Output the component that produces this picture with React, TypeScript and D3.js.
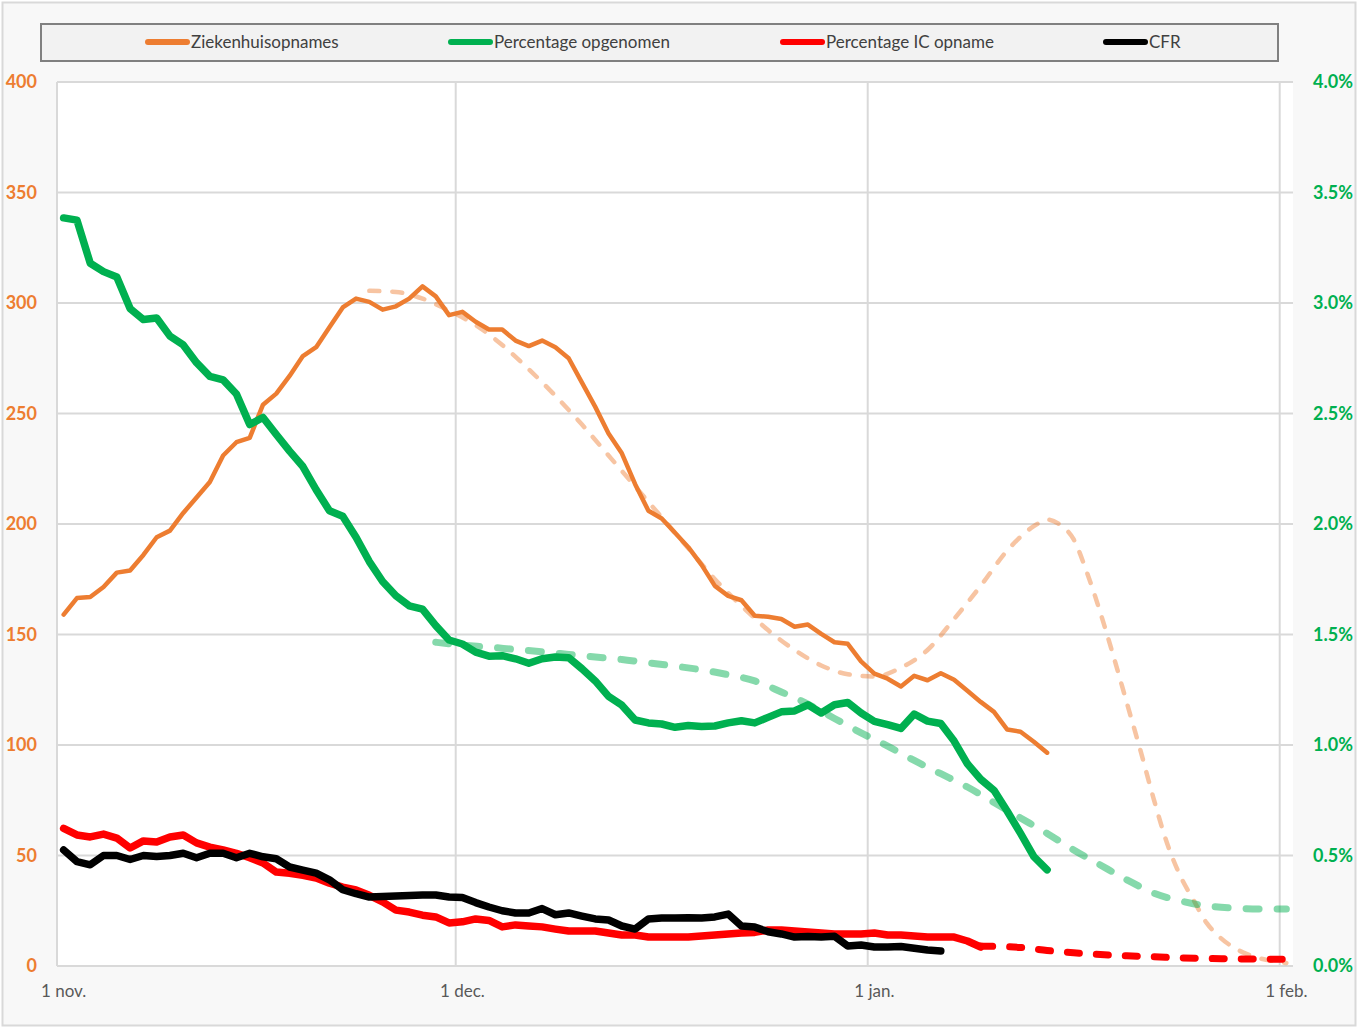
import React from "react";
import * as d3 from "d3";

// ---------- DATA ----------
const startDate = "2020-11-01";
const endDate = "2021-02-01";

const monthTicks = ["2020-11-01", "2020-12-01", "2021-01-01", "2021-02-01"];
const monthLabels = ["1 nov.", "1 dec.", "1 jan.", "1 feb."];

const leftTicks = [0, 50, 100, 150, 200, 250, 300, 350, 400];
const rightTicks = [0, 0.5, 1.0, 1.5, 2.0, 2.5, 3.0, 3.5, 4.0];

const seriesNames = ["Ziekenhuisopnames", "Percentage opgenomen", "Percentage IC opname", "CFR"];

// daily from 1 nov
const ziekenhuisopnames = [
  159, 166.5, 167, 171.5, 178, 179, 186, 194, 197, 205,
  212, 219, 231, 237, 239, 254, 259, 267, 276, 280,
  289, 298, 302, 300.5, 297, 298.5, 302, 307.5, 303, 294.5,
  296, 291.5, 288, 288, 283, 280.5, 283, 280, 275, 264,
  253, 241, 232, 218, 206, 202.5, 196, 189.5, 181.5, 172,
  167.5, 165.5, 158.5, 158, 157, 153.5, 154.5, 150.3, 146.5, 145.8,
  137.8, 132.3, 130, 126.5, 131.3, 129.3, 132.5, 129.5, 124.5, 119.5,
  115, 107, 106, 101.5, 96.5,
];

// percent, daily from 1 nov
const percentageOpgenomen = [
  3.385, 3.375, 3.18, 3.142, 3.118, 2.975, 2.925, 2.932, 2.85, 2.81,
  2.73, 2.668, 2.652, 2.588, 2.45, 2.482, 2.405, 2.33, 2.26, 2.155,
  2.06, 2.035, 1.94, 1.83, 1.74, 1.675, 1.63, 1.615, 1.54, 1.475,
  1.457, 1.42, 1.402, 1.404, 1.39, 1.37, 1.39, 1.398, 1.395, 1.345,
  1.29, 1.22, 1.18, 1.113, 1.1, 1.095, 1.08, 1.088, 1.084, 1.086,
  1.1, 1.11, 1.1, 1.125, 1.15, 1.154, 1.182, 1.145, 1.182, 1.192,
  1.145, 1.107, 1.092, 1.075, 1.14, 1.108, 1.097, 1.018, 0.915, 0.845,
  0.795, 0.7, 0.6, 0.495, 0.435,
];

// percent, daily from 1 nov
const percentageIC = [
  0.623, 0.593, 0.584, 0.597, 0.579, 0.534, 0.566, 0.561, 0.584, 0.593,
  0.557, 0.538, 0.525, 0.51, 0.49, 0.466, 0.425, 0.42, 0.41, 0.398,
  0.375, 0.357, 0.344, 0.32, 0.29, 0.253, 0.244, 0.23, 0.222, 0.195,
  0.2, 0.213, 0.206, 0.177, 0.186, 0.181, 0.177, 0.167, 0.158, 0.158,
  0.158, 0.149, 0.14, 0.14, 0.131, 0.131, 0.131, 0.131, 0.136, 0.14,
  0.145, 0.149, 0.152, 0.163, 0.163, 0.158, 0.154, 0.149, 0.145, 0.145,
  0.145, 0.149, 0.14, 0.14, 0.136, 0.131, 0.131, 0.131, 0.113, 0.086,
];

// percent, daily from 1 nov
const cfr = [
  0.525, 0.472, 0.458, 0.5, 0.5, 0.482, 0.5, 0.495, 0.5, 0.51,
  0.49, 0.51, 0.51, 0.49, 0.51, 0.494, 0.485, 0.448, 0.434, 0.42,
  0.39, 0.345, 0.327, 0.312, 0.314, 0.317, 0.319, 0.321, 0.321, 0.312,
  0.31, 0.287, 0.267, 0.25, 0.24, 0.24, 0.26, 0.232, 0.24, 0.226,
  0.213, 0.208, 0.181, 0.167, 0.213, 0.217, 0.217, 0.218, 0.217, 0.222,
  0.235, 0.181, 0.176, 0.155, 0.145, 0.131, 0.133, 0.131, 0.135, 0.09,
  0.095, 0.086, 0.086, 0.088, 0.08, 0.072, 0.068,
];

// prognoses (dashed)
const ziekenhuisPrognoseDates = [
  "2020-11-24", "2020-11-26", "2020-11-28", "2020-11-30", "2020-12-02", "2020-12-04",
  "2020-12-06", "2020-12-08", "2020-12-10", "2020-12-12", "2020-12-14", "2020-12-16",
  "2020-12-18", "2020-12-20", "2020-12-22", "2020-12-24", "2020-12-26", "2020-12-28",
  "2020-12-30", "2021-01-01", "2021-01-03", "2021-01-05", "2021-01-07", "2021-01-09",
  "2021-01-11", "2021-01-13", "2021-01-14", "2021-01-15", "2021-01-16", "2021-01-17",
  "2021-01-18", "2021-01-19", "2021-01-20", "2021-01-21", "2021-01-22", "2021-01-23",
  "2021-01-24", "2021-01-25", "2021-01-26", "2021-01-27", "2021-01-28", "2021-01-29",
  "2021-01-30", "2021-01-31", "2021-02-01",
];
const ziekenhuisPrognose = [
  305.5, 305, 302, 296.5, 290, 281,
  270, 258, 245, 231, 217, 203,
  189, 175, 163, 152, 143, 136,
  132, 131, 135, 143, 157, 172,
  188, 199, 202, 199.5, 193, 178,
  160, 140, 119, 98, 76, 56,
  41, 30, 19.5, 13, 8.5, 5.5,
  3.5, 2.2, 1.4,
];

const opgenomenPrognoseDates = [
  "2020-11-29", "2020-12-01", "2020-12-03", "2020-12-05", "2020-12-07", "2020-12-09",
  "2020-12-11", "2020-12-13", "2020-12-15", "2020-12-17", "2020-12-19", "2020-12-21",
  "2020-12-23", "2020-12-25", "2020-12-27", "2020-12-29", "2020-12-31", "2021-01-02",
  "2021-01-04", "2021-01-06", "2021-01-08", "2021-01-10", "2021-01-12", "2021-01-14",
  "2021-01-16", "2021-01-18", "2021-01-20", "2021-01-22", "2021-01-24", "2021-01-26",
  "2021-01-28", "2021-01-30", "2021-02-01",
];
const opgenomenPrognose = [
  1.465, 1.452, 1.443, 1.432, 1.422, 1.41,
  1.398, 1.387, 1.372, 1.357, 1.34, 1.318,
  1.29, 1.24, 1.185, 1.12, 1.055, 0.995,
  0.93, 0.87, 0.81, 0.74, 0.67, 0.6,
  0.525, 0.457, 0.39, 0.33, 0.295, 0.272,
  0.262, 0.258, 0.258,
];

const icPrognoseDates = [
  "2021-01-09", "2021-01-12", "2021-01-14", "2021-01-16", "2021-01-18", "2021-01-20",
  "2021-01-22", "2021-01-24", "2021-01-26", "2021-01-28", "2021-01-30", "2021-02-01",
];
const icPrognose = [
  0.09, 0.084, 0.07, 0.06, 0.052, 0.046,
  0.042, 0.037, 0.034, 0.032, 0.031, 0.03,
];

// ---------- STYLE ----------
const W = 1358;
const H = 1027;
const ORANGE = "#ED7D31";
const GREEN = "#00B050";
const RED = "#FF0000";
const BLACK = "#000000";
const FONT = "Lato, 'Open Sans', sans-serif";

const parse = d3.timeParse("%Y-%m-%d");

export default function App() {
  const days = d3.timeDay.range(parse(startDate)!, d3.timeDay.offset(parse(endDate)!, 1));
  const keys = days.map((d) => d3.timeFormat("%Y-%m-%d")(d));

  const plot = { left: 57, right: 1293, top: 82, bottom: 966 };

  const x = d3.scaleBand<string>().domain(keys).range([plot.left, plot.right]).padding(0);
  const cx = (k: string) => (x(k) as number) + x.bandwidth() / 2;
  const yL = d3.scaleLinear().domain([0, 400]).range([plot.bottom, plot.top]);
  const yR = d3.scaleLinear().domain([0, 4]).range([plot.bottom, plot.top]);

  const daily = (vals: number[]) => vals.map((v, i) => ({ k: keys[i], v }));
  const paired = (dates: string[], vals: number[]) => dates.map((k, i) => ({ k, v: vals[i] }));

  const lineL = d3.line<{ k: string; v: number }>().x((d) => cx(d.k)).y((d) => yL(d.v));
  const lineR = d3.line<{ k: string; v: number }>().x((d) => cx(d.k)).y((d) => yR(d.v));
  const smoothL = d3
    .line<{ k: string; v: number }>()
    .x((d) => cx(d.k))
    .y((d) => yL(d.v))
    .curve(d3.curveMonotoneX);
  const smoothR = d3
    .line<{ k: string; v: number }>()
    .x((d) => cx(d.k))
    .y((d) => yR(d.v))
    .curve(d3.curveMonotoneX);

  const gridColor = "#d9d9d9";
  const legendX = [145, 448, 780, 1103];
  const legendColors = [ORANGE, GREEN, RED, BLACK];

  return (
    <svg
      width={W}
      height={H}
      style={{ position: "absolute", left: 0, top: 0, display: "block" }}
      fontFamily={FONT}
    >
      <rect x={0} y={0} width={W} height={H} fill="#ffffff" />
      <rect x={2.5} y={2.5} width={W - 5} height={H - 4} fill="#f8f8f8" stroke="#d9d9d9" strokeWidth={2} />

      {/* plot area */}
      <rect x={plot.left} y={plot.top} width={plot.right - plot.left} height={plot.bottom - plot.top} fill="#ffffff" />

      {/* horizontal grid */}
      {leftTicks.map((t) => (
        <line key={"h" + t} x1={plot.left} x2={plot.right} y1={yL(t)} y2={yL(t)} stroke={gridColor} strokeWidth={2} />
      ))}
      {/* vertical grid */}
      {monthTicks.map((m) => (
        <line
          key={"v" + m}
          x1={x(m) as number}
          x2={x(m) as number}
          y1={plot.top}
          y2={plot.bottom}
          stroke={gridColor}
          strokeWidth={2}
        />
      ))}

      {/* left ticks */}
      {leftTicks.map((t) => (
        <text
          key={"l" + t}
          x={37}
          y={yL(t)}
          dy="0.35em"
          textAnchor="end"
          fill={ORANGE}
          fontWeight="bold"
          fontSize={18}
        >
          {t}
        </text>
      ))}
      {/* right ticks */}
      {rightTicks.map((t) => (
        <text
          key={"r" + t}
          x={1313}
          y={yR(t)}
          dy="0.35em"
          textAnchor="start"
          fill={GREEN}
          fontWeight="bold"
          fontSize={18}
        >
          {t.toFixed(1) + "%"}
        </text>
      ))}
      {/* x labels */}
      {monthTicks.map((m, i) => (
        <text key={"x" + m} x={cx(m)} y={997} textAnchor="middle" fill="#595959" fontSize={17}>
          {monthLabels[i]}
        </text>
      ))}

      {/* prognosis lines */}
      <path
        d={smoothL(paired(ziekenhuisPrognoseDates, ziekenhuisPrognose)) || ""}
        fill="none"
        stroke={ORANGE}
        strokeOpacity={0.45}
        strokeWidth={4.5}
        strokeDasharray="10 13"
        strokeLinecap="round"
      />

      {/* solid lines */}
      <path
        d={lineL(daily(ziekenhuisopnames)) || ""}
        fill="none"
        stroke={ORANGE}
        strokeWidth={4.5}
        strokeLinejoin="round"
        strokeLinecap="round"
      />
      <path
        d={lineR(daily(percentageOpgenomen)) || ""}
        fill="none"
        stroke={GREEN}
        strokeWidth={7.5}
        strokeLinejoin="round"
        strokeLinecap="round"
      />
      <path
        d={smoothR(paired(opgenomenPrognoseDates, opgenomenPrognose)) || ""}
        fill="none"
        stroke={GREEN}
        strokeOpacity={0.48}
        strokeWidth={7}
        strokeDasharray="13 18"
        strokeLinecap="round"
      />
      <path
        d={smoothR(paired(icPrognoseDates, icPrognose)) || ""}
        fill="none"
        stroke={RED}
        strokeWidth={7}
        strokeDasharray="12 17"
        strokeLinecap="round"
      />
      <path
        d={lineR(daily(percentageIC)) || ""}
        fill="none"
        stroke={RED}
        strokeWidth={7.5}
        strokeLinejoin="round"
        strokeLinecap="round"
      />
      <path
        d={lineR(daily(cfr)) || ""}
        fill="none"
        stroke={BLACK}
        strokeWidth={7.5}
        strokeLinejoin="round"
        strokeLinecap="round"
      />

      {/* legend */}
      <rect x={41} y={24} width={1237} height={37} fill="#f2f2f2" stroke="#808080" strokeWidth={2} />
      {seriesNames.map((n, i) => (
        <g key={n}>
          <line
            x1={legendX[i] + 3}
            x2={legendX[i] + 42}
            y1={42}
            y2={42}
            stroke={legendColors[i]}
            strokeWidth={6}
            strokeLinecap="round"
          />
          <text x={legendX[i] + 46} y={42} dy="0.35em" fill="#404040" fontSize={17}>
            {n}
          </text>
        </g>
      ))}
    </svg>
  );
}
